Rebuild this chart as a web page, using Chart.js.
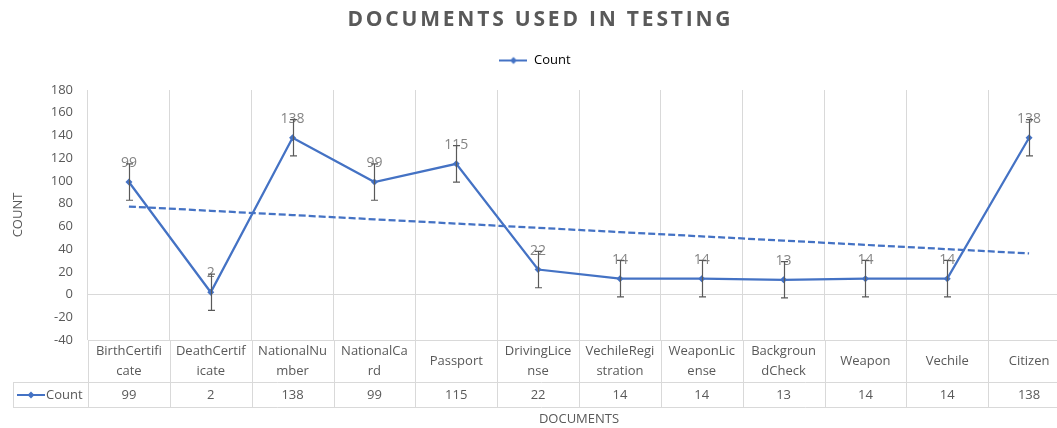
<!DOCTYPE html>
<html>
<head>
<meta charset="utf-8">
<title>Documents used in testing</title>
<script src="https://cdn.jsdelivr.net/npm/chart.js@4.4.0/dist/chart.umd.min.js"></script>
<style>
    html, body { margin: 0; padding: 0; background: #fff; overflow: hidden; }
    #wrap { width: 1075px; height: 428px; }
</style>
</head>
<body>
<div id="wrap"><canvas id="mycanvas"></canvas></div>
<script>
// data
var chartTitle = 'DOCUMENTS USED IN TESTING';
var categories = ['BirthCertificate', 'DeathCertificate', 'NationalNumber', 'NationalCard', 'Passport',
    'DrivingLicense', 'VechileRegistration', 'WeaponLicense', 'BackgroundCheck', 'Weapon', 'Vechile', 'Citizen'];
var tableLabels = [['BirthCertifi', 'cate'], ['DeathCertif', 'icate'], ['NationalNu', 'mber'], ['NationalCa', 'rd'],
    ['Passport'], ['DrivingLice', 'nse'], ['VechileRegi', 'stration'], ['WeaponLic', 'ense'], ['Backgroun', 'dCheck'],
    ['Weapon'], ['Vechile'], ['Citizen']];
var counts = [99, 2, 138, 99, 115, 22, 14, 14, 13, 14, 14, 138];
var errorAmount = 16;
var yMin = -40, yMax = 180, yStep = 20;

var blue = '#4472C4'
var gray = '#595959'
var lineGray = '#d9d9d9'

// linear trendline (least squares over category index)
var n = counts.length
var sx = 0, sy = 0, sxy = 0, sxx = 0
for (var i = 0; i < n; i++) {
    sx += i; sy += counts[i]; sxy += i * counts[i]; sxx += i * i
}
var slope = (n * sxy - sx * sy) / (n * sxx - sx * sx)
var icpt = (sy - slope * sx) / n
var trend = counts.map(function (v, i) { return icpt + slope * i })

// legend key: line with diamond
var key = document.createElement('canvas')
key.width = 28; key.height = 10
var k = key.getContext('2d')
k.strokeStyle = blue; k.lineWidth = 2
k.beginPath(); k.moveTo(0, 5); k.lineTo(28, 5); k.stroke()
k.fillStyle = blue
k.beginPath(); k.moveTo(14, 1.5); k.lineTo(17.5, 5); k.lineTo(14, 8.5); k.lineTo(10.5, 5); k.closePath(); k.fill()

var extras = {
    id: 'extras',
    afterDatasetsDraw: function (chart) {
        var ctx = chart.ctx, xs = chart.scales.x, ys = chart.scales.y
        ctx.save()
        // data labels
        ctx.font = '14px "Open Sans", sans-serif'
        ctx.fillStyle = 'rgba(89,89,89,0.75)'
        ctx.textAlign = 'center'
        ctx.textBaseline = 'middle'
        for (var i = 0; i < counts.length; i++) {
            ctx.fillText(String(counts[i]), xs.getPixelForValue(i), ys.getPixelForValue(counts[i]) - 19)
        }
        // error bars
        ctx.strokeStyle = gray
        ctx.lineWidth = 1.2
        for (var i = 0; i < counts.length; i++) {
            var x = Math.round(xs.getPixelForValue(i)) + 0.5
            var top = ys.getPixelForValue(counts[i] + errorAmount)
            var bot = ys.getPixelForValue(counts[i] - errorAmount)
            ctx.beginPath()
            ctx.moveTo(x, top); ctx.lineTo(x, bot)
            ctx.moveTo(x - 3.5, top); ctx.lineTo(x + 3.5, top)
            ctx.moveTo(x - 3.5, bot); ctx.lineTo(x + 3.5, bot)
            ctx.stroke()
        }
        ctx.restore()
    },
    afterDraw: function (chart) {
        var ctx = chart.ctx, xs = chart.scales.x, area = chart.chartArea
        var step = xs.getPixelForValue(1) - xs.getPixelForValue(0)
        var rowTop = area.bottom, rowMid = area.bottom + 42, rowBot = rowMid + 25
        var keyLeft = 13
        ctx.save()
        // title, drawn here for its wide letter spacing
        ctx.font = 'bold 21px "Open Sans", sans-serif'
        ctx.letterSpacing = '2.8px'
        ctx.fillStyle = gray
        ctx.textAlign = 'center'
        ctx.textBaseline = 'middle'
        ctx.fillText(chartTitle, 539 + 1.4, 20)
        ctx.letterSpacing = '0px'

        ctx.strokeStyle = lineGray
        ctx.lineWidth = 1
        ctx.beginPath()
        ctx.moveTo(area.left, rowTop + 0.5); ctx.lineTo(area.right, rowTop + 0.5)
        ctx.moveTo(keyLeft, rowMid + 0.5); ctx.lineTo(area.right, rowMid + 0.5)
        ctx.moveTo(keyLeft, rowBot + 0.5); ctx.lineTo(area.right, rowBot + 0.5)
        ctx.moveTo(keyLeft + 0.5, rowMid); ctx.lineTo(keyLeft + 0.5, rowBot)
        for (var i = 0; i <= counts.length; i++) {
            var bx = Math.round(xs.getPixelForValue(i) - step / 2) + 0.5
            ctx.moveTo(bx, rowTop); ctx.lineTo(bx, rowBot)
        }
        ctx.stroke()

        ctx.font = '13px "Open Sans", sans-serif'
        ctx.fillStyle = gray
        for (var i = 0; i < counts.length; i++) {
            var cx = xs.getPixelForValue(i)
            var lines = tableLabels[i]
            if (lines.length == 1) {
                ctx.fillText(lines[0], cx, rowTop + 21)
            } else {
                ctx.fillText(lines[0], cx, rowTop + 11)
                ctx.fillText(lines[1], cx, rowTop + 31)
            }
            ctx.fillText(String(counts[i]), cx, rowMid + 13)
        }
        // legend key in table
        ctx.drawImage(key, 17, rowMid + 8)
        ctx.textAlign = 'left'
        ctx.fillText('Count', 46, rowMid + 13)
        ctx.restore()
    }
}

Chart.defaults.font.family = '"Open Sans", sans-serif'
Chart.defaults.color = gray

var ctx = document.getElementById('mycanvas')
var chart = new Chart(ctx, {
    type: 'line',
    data: {
        labels: categories,
        datasets: [{
            label: 'Count',
            data: counts,
            borderColor: blue,
            backgroundColor: blue,
            borderWidth: 2.25,
            pointStyle: 'rectRot',
            pointRadius: 3.5,
            pointBorderWidth: 0,
            tension: 0
        }, {
            label: 'Linear (Count)',
            data: trend,
            borderColor: blue,
            borderWidth: 2.25,
            borderDash: [7, 3],
            pointRadius: 0,
            tension: 0
        }]
    },
    plugins: [extras],
    options: {
        responsive: true,
        maintainAspectRatio: false,
        devicePixelRatio: 1,
        animation: false,
        layout: { padding: { left: 0, right: 5, top: 32, bottom: 0 } },
        plugins: {
            tooltip: { enabled: false },
            title: { display: false },
            legend: {
                display: true,
                labels: {
                    usePointStyle: true,
                    pointStyleWidth: 28,
                    font: { size: 13 },
                    color: gray,
                    padding: 22,
                    generateLabels: function (c) {
                        return [{ text: 'Count', pointStyle: key, fillStyle: blue, strokeStyle: blue, lineWidth: 0, datasetIndex: 0 }]
                    }
                }
            }
        },
        scales: {
            x: {
                offset: true,
                grid: { offset: true, color: lineGray, drawTicks: false },
                border: { display: false },
                ticks: { display: false },
                title: { display: true, text: 'DOCUMENTS', font: { size: 13 }, color: gray, padding: { top: 0, bottom: 1 } },
                afterFit: function (s) { s.height = 88 }
            },
            // empty band between legend and plot
            xTop: {
                axis: 'x',
                type: 'category',
                position: 'top',
                grid: { display: false, drawTicks: false },
                border: { display: false },
                ticks: { display: false },
                afterFit: function (s) { s.height = 13 }
            },
            y: {
                min: yMin,
                max: yMax,
                ticks: { stepSize: yStep, padding: 15, font: { size: 13 }, color: gray },
                grid: {
                    drawTicks: false,
                    color: function (c) { return c.tick && c.tick.value === 0 ? lineGray : 'transparent' }
                },
                border: { display: false },
                title: { display: true, text: 'COUNT', font: { size: 13 }, color: gray, padding: { top: 10, bottom: 0 } },
                afterFit: function (s) { s.width = 88 }
            }
        }
    }
})
</script>
</body>
</html>
